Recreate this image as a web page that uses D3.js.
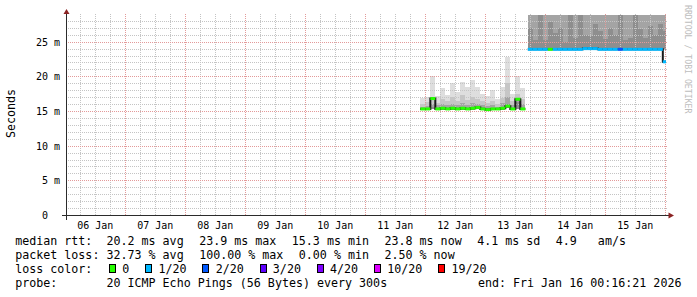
<!DOCTYPE html>
<html>
<head>
<meta charset="utf-8">
<script src="https://cdn.jsdelivr.net/npm/d3@7"></script>
<style>
    html, body { margin: 0; padding: 0; background: #ffffff; }
    svg { display: block; }
    text { font-family: "DejaVu Sans Mono", monospace; white-space: pre; fill: #000; }
</style>
</head>
<body>
<div class="smokegraph"></div>
<script>
// --- DATA (ms)
const binTimes = [
    "2026-01-11 22:00", "2026-01-12 00:00", "2026-01-12 02:00", "2026-01-12 04:00", "2026-01-12 06:00",
    "2026-01-12 08:00", "2026-01-12 10:00", "2026-01-12 12:00", "2026-01-12 14:00", "2026-01-12 16:00",
    "2026-01-12 18:00", "2026-01-12 20:00", "2026-01-12 22:00", "2026-01-13 00:00", "2026-01-13 02:00",
    "2026-01-13 04:00", "2026-01-13 06:00", "2026-01-13 08:00", "2026-01-13 10:00", "2026-01-13 12:00",
    "2026-01-13 14:00",
    "2026-01-13 17:00", "2026-01-13 19:00", "2026-01-13 21:00", "2026-01-13 23:00", "2026-01-14 01:00",
    "2026-01-14 03:00", "2026-01-14 05:00", "2026-01-14 07:00", "2026-01-14 09:00", "2026-01-14 11:00",
    "2026-01-14 13:00", "2026-01-14 15:00", "2026-01-14 17:00", "2026-01-14 19:00", "2026-01-14 21:00",
    "2026-01-14 23:00", "2026-01-15 01:00", "2026-01-15 03:00", "2026-01-15 05:00", "2026-01-15 07:00",
    "2026-01-15 09:00", "2026-01-15 11:00", "2026-01-15 13:00", "2026-01-15 15:00", "2026-01-15 17:00",
    "2026-01-15 19:00", "2026-01-15 21:00", "2026-01-15 23:00"
];
const median = [
    15.3, 15.3, 16.8, 15.3, 15.4, 15.3, 15.4, 15.3, 15.4, 15.3, 15.4, 15.5, 15.3, 15.2, 15.3, 15.3, 15.4, 15.7, 15.3, 16.7, 15.3,
    23.9, 23.9, 23.9, 23.9, 23.9, 23.9, 23.9, 23.9, 23.9, 23.9, 23.9, 24.0, 24.0, 24.0, 23.9, 23.9, 23.9, 23.9, 23.9, 23.9,
    23.9, 23.9, 23.9, 23.9, 23.9, 23.9, 23.9, 22.1
];
const smokeLo = [
    15.2, 15.2, 15.3, 15.2, 15.2, 15.2, 15.2, 15.2, 15.2, 15.2, 15.2, 15.3, 15.2, 15.1, 15.2, 15.2, 15.2, 15.4, 15.2, 15.3, 15.2,
    23.8, 23.8, 23.8, 23.8, 23.8, 23.8, 23.8, 23.8, 23.8, 23.8, 23.8, 23.9, 23.9, 23.9, 23.8, 23.8, 23.8, 23.8, 23.8, 23.8,
    23.8, 23.8, 23.8, 23.8, 23.8, 23.8, 23.8, 23.8
];
const smokeQ1 = [
    15.4, 15.4, 15.6, 15.5, 15.5, 15.4, 15.5, 15.4, 15.6, 15.5, 15.6, 15.5, 15.6, 15.4, 15.5, 15.4, 15.6, 16.0, 15.5, 16.3, 15.5,
    27.0, 25.3, 29.5, 25.2, 27.8, 26.2, 27.0, 25.0, 29.5, 25.5, 29.5, 26.0, 25.8, 27.5, 26.5, 25.4, 27.0, 26.0, 29.5, 25.2,
    25.6, 29.5, 26.8, 25.6, 27.2, 26.0, 27.5, 26.5
];
const smokeQ2 = [
    15.6, 15.7, 16.0, 15.8, 16.0, 15.8, 16.0, 15.8, 16.2, 15.9, 16.1, 16.0, 15.9, 15.7, 15.8, 15.6, 16.1, 17.0, 15.9, 16.8, 16.0,
    30.5, 31.0, 30.8, 30.2, 31.5, 30.6, 30.9, 30.1, 31.2, 30.4, 31.0, 30.3, 30.2, 30.9, 30.6, 30.1, 30.8, 30.4, 31.3, 30.2,
    30.3, 31.1, 30.7, 30.2, 30.9, 30.5, 30.8, 30.5
];
const smokeQ3 = [
    16.0, 16.3, 16.8, 16.2, 16.8, 16.5, 17.0, 16.4, 17.3, 16.6, 17.0, 16.8, 16.5, 16.2, 16.4, 16.0, 16.9, 19.0, 16.5, 17.5, 16.8,
    32.0, 32.5, 32.2, 31.8, 33.0, 32.1, 32.4, 31.6, 32.8, 31.9, 32.5, 31.8, 31.7, 32.3, 32.0, 31.6, 32.2, 31.9, 32.9, 31.7,
    31.8, 32.6, 32.1, 31.7, 32.4, 32.0, 32.3, 32.0
];
const smokeHi = [
    16.9, 17.0, 20.1, 17.2, 18.3, 17.3, 19.0, 17.8, 19.2, 18.5, 19.5, 18.5, 17.5, 17.2, 18.0, 16.8, 18.5, 22.8, 17.5, 20.0, 18.3,
    35.0, 36.0, 35.5, 34.8, 37.0, 35.2, 35.8, 34.5, 36.5, 35.0, 36.2, 34.9, 34.7, 35.6, 35.1, 34.6, 35.4, 35.0, 36.8, 34.6,
    34.8, 36.1, 35.3, 34.7, 35.7, 35.1, 35.5, 35.0
];
const lostPings = [
    0, 0, 0, 0, 0, 0, 0, 0, 0, 0, 0, 0, 0, 0, 0, 0, 0, 0, 0, 0, 0,
    1, 1, 1, 1, 0, 1, 1, 1, 1, 1, 1, 1, 1, 1, 1, 1, 1, 1, 2, 1,
    1, 1, 1, 1, 1, 1, 1, 1
];

const lossSteps = [0, 1, 2, 3, 4, 10, 19];
const lossLabels = ["0", "1/20", "2/20", "3/20", "4/20", "10/20", "19/20"];
const lossColors = ["#26ff00", "#00b8ff", "#0059ff", "#5e00ff", "#7e00ff", "#dd00ff", "#ff0000"];

const yTickValues = [0, 5, 10, 15, 20, 25];
const yTickLabels = ["0", "5", "10", "15", "20", "25"];
const dayLabels = ["06 Jan", "07 Jan", "08 Jan", "09 Jan", "10 Jan", "11 Jan", "12 Jan", "13 Jan", "14 Jan", "15 Jan"];

const rttStats = ["20.2 ms avg", "23.9 ms max", "15.3 ms min", "23.8 ms now", "4.1 ms sd", "4.9   am/s"];
const lossStats = ["32.73 % avg", "100.00 % max", "0.00 % min", "2.50 % now"];
const probeText = "20 ICMP Echo Pings (56 Bytes) every 300s";
const endStamp = "2026-01-16 00:16:21";
const endText = "end: Fri Jan 16 00:16:21 2026";

// --- LAYOUT
const width = 697, height = 297;
const plot = { left: 66, right: 666, top: 15, bottom: 215 };
const yMax = 28.85;
const binMs = 2 * 3600 * 1000;

const parseBin = d3.utcParse("%Y-%m-%d %H:%M");
const parseEnd = d3.utcParse("%Y-%m-%d %H:%M:%S");
const endTime = parseEnd(endStamp);
const startTime = new Date(+endTime - 10 * 86400 * 1000);

const x = d3.scaleUtc().domain([startTime, endTime]).range([plot.left, plot.right]);
const y = d3.scaleLinear().domain([0, yMax]).range([plot.bottom, plot.top]);

const bins = binTimes.map(function(t, i) {
    const t0 = parseBin(t);
    return {
        t0: t0,
        t1: new Date(+t0 + binMs),
        med: median[i], lo: smokeLo[i],
        q1: smokeQ1[i], q2: smokeQ2[i], q3: smokeQ3[i], hi: smokeHi[i],
        loss: lostPings[i]
    };
});
// clip bins to the next bin start, split into segments where data is missing
const segments = [];
bins.forEach(function(b, i) {
    const next = bins[i + 1];
    if (next && +next.t0 < +b.t1) b.t1 = next.t0;
    if (i === 0 || +bins[i - 1].t1 !== +b.t0) segments.push([]);
    segments[segments.length - 1].push(b);
});

function lossColor(n) {
    let c = lossColors[0];
    lossSteps.forEach(function(s, i) { if (n >= s) c = lossColors[i]; });
    return c;
}

const svg = d3.select(".smokegraph").append("svg")
    .attr("width", width)
    .attr("height", height);

svg.append("defs").append("clipPath").attr("id", "plotclip")
    .append("rect")
    .attr("x", plot.left).attr("y", plot.top)
    .attr("width", plot.right - plot.left).attr("height", plot.bottom - plot.top);

// --- SMOKE
const smoke = svg.append("g").attr("clip-path", "url(#plotclip)");
const shades = [["hi", "#dedede"], ["q3", "#c6c6c6"], ["q2", "#a4a4a4"], ["q1", "#8e8e8e"]];
shades.forEach(function(s) {
    smoke.selectAll(".smoke-" + s[0])
        .data(bins)
        .enter().append("rect")
        .attr("class", "smoke-" + s[0])
        .attr("x", function(d) { return Math.round(x(d.t0)); })
        .attr("width", function(d) { return Math.round(x(d.t1)) - Math.round(x(d.t0)); })
        .attr("y", function(d) { return Math.round(y(d[s[0]])); })
        .attr("height", function(d) { return Math.max(0, Math.round(y(d.lo)) - Math.round(y(d[s[0]]))); })
        .attr("fill", s[1]);
});

// --- GRID
const grid = svg.append("g").attr("class", "grid");
const minorY = d3.range(1, 29).filter(function(v) { return v % 5 !== 0; });
const majorY = yTickValues.filter(function(v) { return v > 0; });
const minorX = d3.utcHour.every(6).range(startTime, endTime).filter(function(d) { return d.getUTCHours() !== 0; });
const majorX = d3.utcDay.range(startTime, new Date(+endTime + 1));

grid.selectAll(".hminor").data(minorY).enter().append("line")
    .attr("x1", plot.left).attr("x2", plot.right + 2)
    .attr("y1", function(d) { return Math.round(y(d)) + 0.5; })
    .attr("y2", function(d) { return Math.round(y(d)) + 0.5; })
    .attr("stroke", "#c4c4c4").attr("stroke-dasharray", "1,1");
grid.selectAll(".vminor").data(minorX).enter().append("line")
    .attr("y1", plot.bottom).attr("y2", plot.top - 2)
    .attr("x1", function(d) { return Math.round(x(d)) + 0.5; })
    .attr("x2", function(d) { return Math.round(x(d)) + 0.5; })
    .attr("stroke", "#c4c4c4").attr("stroke-dasharray", "1,1");
grid.selectAll(".hmajor").data(majorY).enter().append("line")
    .attr("x1", plot.left).attr("x2", plot.right + 2)
    .attr("y1", function(d) { return Math.round(y(d)) + 0.5; })
    .attr("y2", function(d) { return Math.round(y(d)) + 0.5; })
    .attr("stroke", "#e39a9a").attr("stroke-dasharray", "1,1");
grid.selectAll(".vmajor").data(majorX).enter().append("line")
    .attr("y1", plot.bottom).attr("y2", plot.top - 2)
    .attr("x1", function(d) { return Math.round(x(d)) + 0.5; })
    .attr("x2", function(d) { return Math.round(x(d)) + 0.5; })
    .attr("stroke", "#e39a9a").attr("stroke-dasharray", "1,1");

// --- MEDIAN (dark step line + loss coloured segments)
const medianLayer = svg.append("g").attr("clip-path", "url(#plotclip)");
const stepLine = d3.line()
    .x(function(d) { return x(d.t); })
    .y(function(d) { return y(d.v); })
    .curve(d3.curveStepAfter);

segments.forEach(function(seg) {
    const pts = seg.map(function(b) { return { t: b.t0, v: b.med }; });
    pts.push({ t: seg[seg.length - 1].t1, v: seg[seg.length - 1].med });
    medianLayer.append("path")
        .attr("d", stepLine(pts))
        .attr("fill", "none")
        .attr("stroke", "#1a1a1a")
        .attr("stroke-width", 2);
});

medianLayer.selectAll(".medseg")
    .data(bins)
    .enter().append("line")
    .attr("class", "medseg")
    .attr("x1", function(d) { return x(d.t0); })
    .attr("x2", function(d) { return x(d.t1); })
    .attr("y1", function(d) { return y(d.med); })
    .attr("y2", function(d) { return y(d.med); })
    .attr("stroke", function(d) { return lossColor(d.loss); })
    .attr("stroke-width", 3);

// --- AXES
const axisColor = "#2b2b2b", arrowColor = "#8b2323";
svg.append("line")
    .attr("x1", 62).attr("x2", 670)
    .attr("y1", plot.bottom + 0.5).attr("y2", plot.bottom + 0.5)
    .attr("stroke", axisColor);
svg.append("line")
    .attr("x1", plot.left + 0.5).attr("x2", plot.left + 0.5)
    .attr("y1", plot.bottom + 5).attr("y2", 12)
    .attr("stroke", axisColor);
svg.append("path")
    .attr("d", "M674,215.5 L668.5,212.5 L668.5,218.5 Z")
    .attr("fill", arrowColor);
svg.append("path")
    .attr("d", "M66.5,9 L63.5,14 L69.5,14 Z")
    .attr("fill", arrowColor);

const axisFont = 10;
const axisCw = axisFont * 0.6021;
const yLabels = svg.append("g").attr("font-size", axisFont);
yLabels.selectAll(".ynum").data(yTickValues).enter().append("text")
    .attr("x", 60 - 2 * axisCw)
    .attr("y", function(d) { return Math.round(y(d)) + 4; })
    .attr("text-anchor", "end")
    .text(function(d, i) { return yTickLabels[i]; });
yLabels.selectAll(".yunit").data(majorY).enter().append("text")
    .attr("x", 60 - axisCw)
    .attr("y", function(d) { return Math.round(y(d)) + 4; })
    .attr("fill", "#444")
    .text("m");

const firstDay = d3.utcDay.floor(startTime);
svg.append("g").attr("font-size", axisFont)
    .selectAll("text").data(dayLabels).enter().append("text")
    .attr("x", function(d, i) { return x(d3.utcHour.offset(d3.utcDay.offset(firstDay, i), 12)); })
    .attr("y", 229)
    .attr("text-anchor", "middle")
    .text(function(d) { return d; });

// --- TITLES
svg.append("text")
    .attr("transform", "translate(14.5,113.5) rotate(-90)")
    .attr("text-anchor", "middle")
    .attr("font-size", 11.66)
    .text("Seconds");
svg.append("text")
    .attr("transform", "translate(684.5,5) rotate(90)")
    .attr("font-size", 8.2)
    .style("fill", "#bdbdbd")
    .text("RRDTOOL / TOBI OETIKER");

// --- LEGEND
const legFont = 11.66, cw = legFont * 0.6021, lx = 15.2;
const rowY = [245.3, 259.2, 273.1, 287.0];
function col(c) { return lx + c * cw; }

const legend = svg.append("g").attr("font-size", legFont);

function statRow(yb, label, items) {
    legend.append("text").attr("x", col(0)).attr("y", yb).text(label);
    let c = 13;
    items.forEach(function(s) {
        legend.append("text").attr("x", col(c)).attr("y", yb).text(s);
        c += s.length + 2.2;
    });
}
statRow(rowY[0], "median rtt:", rttStats);
statRow(rowY[1], "packet loss:", lossStats);

legend.append("text").attr("x", col(0)).attr("y", rowY[2]).text("loss color:");
let cursor = 13.2;
lossLabels.forEach(function(lab, i) {
    legend.append("rect")
        .attr("x", Math.round(col(cursor) + 1.1) + 0.5)
        .attr("y", rowY[2] - 8.6)
        .attr("width", 6).attr("height", 8)
        .attr("fill", lossColors[i])
        .attr("stroke", "#000");
    legend.append("text").attr("x", col(cursor + 2.05)).attr("y", rowY[2]).text(lab);
    cursor += 2.05 + lab.length + 2.1;
});

legend.append("text").attr("x", col(0)).attr("y", rowY[3]).text("probe:");
legend.append("text").attr("x", col(13)).attr("y", rowY[3]).text(probeText);
legend.append("text").attr("x", col(94.9)).attr("y", rowY[3]).attr("text-anchor", "end").text(endText);
</script>
</body>
</html>
